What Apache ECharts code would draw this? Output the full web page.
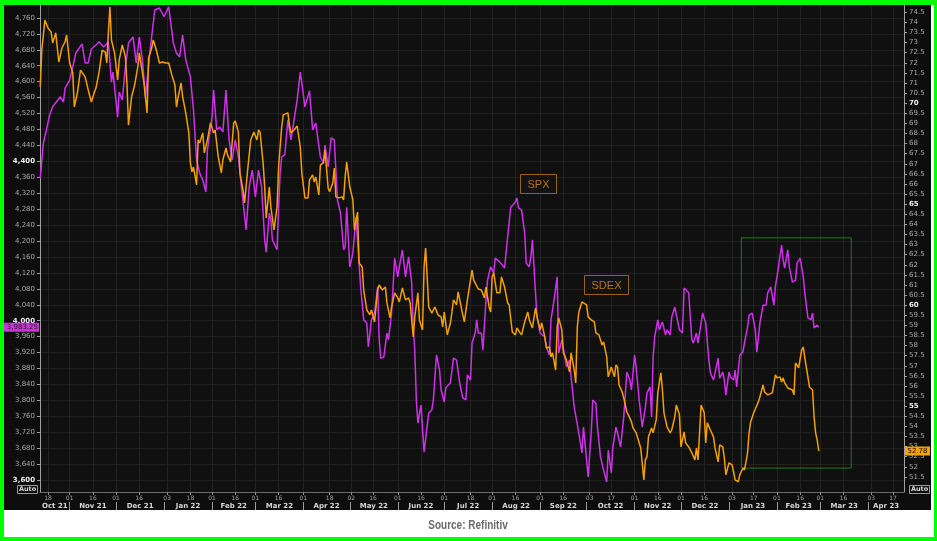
<!DOCTYPE html>
<html><head><meta charset="utf-8">
<script src="https://cdn.jsdelivr.net/npm/echarts@6/dist/echarts.min.js"></script>
<style>html,body{margin:0;padding:0;background:#fff}#c{width:937px;height:541px}</style>
</head><body><div id="c"></div>
<script>
// ---- data ----
const baseDate = '2021-10-18'; // day 0 of the day arrays below
const spxDay = [-5,-3,-1,1,3,5,8,10,11,14,16,18,22,24,26,28,31,33,36,39,41,42,45,46,48,50,52,55,57,59,61,63,66,69,72,75,78,79,81,83,85,87,89,92,94,96,98,100,102,103,106,107,109,111,113,115,117,119,121,123,125,128,130,132,134,136,138,140,141,143,144,145,148,149,150,151,153,155,157,159,161,163,164,166,169,171,173,176,178,179,181,183,185,187,189,191,192,193,195,197,199,200,202,204,206,207,209,211,213,214,215,217,219,220,222,224,226,227,229,231,233,235,236,237,238,239,241,243,244,246,248,249,251,253,254,256,257,260,262,264,266,268,270,271,273,274,276,277,278,280,281,283,284,286,288,289,292,295,297,298,299,302,303,304,306,308,309,311,312,313,315,316,318,321,322,324,325,327,329,330,332,334,335,337,338,340,343,345,346,348,349,351,352,354,355,357,359,361,362,364,365,367,368,370,372,373,374,376,377,379,380,382,384,386,387,389,390,391,392,394,395,397,399,400,402,403,405,406,408,410,411,412,414,416,417,419,420,422,423,425,427,428,430,431,433,434,436,437,438,440,441,443,444,445,447,449,450,452,453,455,457,458,460,462,464,465,467,469,470,472,474,475,476,478,479,481,483,484,486,488,489,491,493,494,495,497,498];
const spxVal = [4358,4446,4479,4516,4537,4547,4562,4549,4584,4604,4637,4672,4695,4647,4647,4682,4692,4700,4687,4700,4599,4624,4511,4574,4554,4637,4697,4712,4647,4712,4655,4562,4680,4780,4785,4763,4788,4785,4697,4672,4662,4717,4655,4612,4529,4403,4371,4353,4323,4429,4511,4579,4479,4486,4474,4579,4454,4403,4454,4411,4336,4228,4336,4378,4311,4378,4336,4203,4172,4270,4253,4203,4178,4285,4371,4411,4416,4504,4454,4504,4554,4624,4597,4537,4577,4479,4496,4411,4396,4441,4386,4459,4454,4303,4270,4178,4185,4285,4135,4170,4260,4203,4085,4002,3994,3934,4002,4019,4085,3952,3906,3909,3969,3952,4019,4157,4110,4135,4178,4110,4160,4095,3984,3926,3801,3743,3788,3670,3670,3768,3776,3801,3914,3876,3826,3796,3831,3844,3906,3901,3844,3806,3801,3864,3851,3944,3969,4002,3969,3969,3926,4052,4102,4135,4120,4157,4147,4132,4210,4215,4285,4298,4308,4283,4278,4220,4145,4135,4160,4203,4070,4009,3969,3959,3934,3914,4002,4052,4110,3919,3952,3909,3884,3901,3859,3783,3718,3668,3733,3650,3608,3718,3801,3793,3733,3658,3625,3595,3675,3618,3683,3733,3718,3683,3758,3813,3871,3851,3826,3914,3884,3801,3733,3783,3819,3834,3758,3909,3959,4002,3977,3997,3964,3977,3964,4009,4034,4032,3977,3969,4082,4082,4070,3952,3944,3969,3944,3994,4019,3994,3901,3869,3851,3856,3906,3856,3871,3851,3813,3871,3859,3851,3876,3834,3914,3921,3944,3984,4014,4019,3977,3921,3994,4039,4039,4070,4085,4039,4085,4135,4190,4152,4132,4178,4135,4097,4102,4145,4157,4110,4070,4007,4002,4019,3982,3989,3983.25];
const sdexDay = [-5,-4,-2,0,2,3,5,7,9,11,12,14,16,17,19,21,24,26,28,30,31,33,35,37,38,39,40,41,43,45,46,48,50,51,52,54,56,58,59,61,62,64,65,67,68,70,72,74,76,78,80,82,83,84,86,87,89,91,92,93,94,96,97,98,100,101,103,105,107,108,110,112,113,115,116,118,120,121,123,124,126,127,129,131,133,135,136,137,139,140,141,143,144,146,148,149,151,152,155,156,157,159,161,163,164,166,168,169,171,172,173,175,176,178,179,181,182,184,185,186,188,190,191,192,193,195,197,198,200,201,203,204,206,208,209,211,213,214,216,218,219,221,222,224,226,227,229,231,233,234,235,236,237,239,240,242,243,244,245,246,248,250,252,254,255,256,258,260,261,262,264,265,266,268,269,271,272,274,275,276,277,278,280,282,283,285,286,287,288,290,292,293,295,297,298,300,302,303,305,306,308,310,311,313,315,316,318,319,321,322,324,325,326,328,329,330,332,333,335,337,338,340,341,342,343,345,346,348,349,351,353,354,356,358,359,361,362,364,366,367,368,369,371,372,374,375,377,378,380,382,383,385,386,387,388,390,391,393,394,396,397,398,400,402,403,405,406,408,409,411,412,414,415,416,418,419,420,421,422,424,425,426,428,430,431,433,434,436,437,438,440,442,443,444,446,447,449,450,451,452,453,454,456,457,459,460,462,463,465,466,468,470,471,473,474,475,476,478,479,481,482,483,485,486,487,488,489,491,492,494,495,496,497,498];
const sdexVal = [70.80,72.63,74.12,73.72,73.53,72.98,73.48,72.04,72.73,73.03,73.38,71.99,71.50,69.81,70.51,71.64,71.30,70.65,70.06,70.55,70.75,71.54,72.63,72.53,71.99,73.48,74.76,73.13,72.49,71.15,72.14,72.88,72.29,71.00,68.92,70.31,70.90,71.79,72.49,71.50,71.00,69.52,72.24,72.73,73.13,72.63,71.99,72.04,71.99,71.99,71.40,70.90,69.81,70.26,71.00,70.31,69.52,68.53,67.04,66.60,66.84,65.95,68.18,68.03,68.53,67.54,68.18,69.02,68.53,68.67,67.34,66.55,67.19,67.78,67.44,67.09,69.02,69.12,68.57,66.55,65.70,65.06,66.69,68.18,68.57,68.18,68.67,68.57,67.04,65.85,64.32,65.85,64.86,63.72,64.86,66.84,68.82,69.42,69.52,68.92,68.53,68.67,68.87,67.83,66.55,65.31,65.31,66.20,66.45,66.10,66.35,65.46,66.94,67.04,67.68,65.80,65.61,66.05,66.79,65.36,65.31,65.36,65.21,66.35,67.09,65.85,65.21,63.72,64.61,62.09,61.89,60.75,59.76,59.52,59.76,59.17,60.75,61.00,60.75,60.90,60.11,59.37,59.91,60.61,60.36,60.16,60.85,60.26,60.36,60.11,59.27,58.43,59.42,60.61,59.27,58.77,61.89,62.83,61.40,59.91,59.61,59.91,59.52,59.42,58.92,59.66,58.53,59.12,59.66,60.26,60.01,60.66,60.61,59.52,59.17,60.26,60.26,61.74,61.25,61.10,61.15,60.80,60.75,60.36,60.90,59.91,59.66,61.40,61.60,60.61,60.61,61.40,60.90,60.11,60.01,58.67,58.53,58.87,58.63,58.53,59.17,59.66,59.27,58.87,59.86,59.42,58.77,59.12,58.43,57.88,57.93,57.44,57.64,56.79,58.92,59.37,58.77,57.64,57.29,56.70,57.64,56.79,56.15,58.92,59.66,60.16,60.11,60.01,59.42,59.27,59.17,58.63,58.53,58.03,58.18,57.44,56.45,56.94,56.45,57.04,56.94,56.05,55.70,55.41,54.71,54.57,54.22,53.92,53.68,53.18,52.93,51.35,52.34,52.49,53.48,53.92,53.68,54.32,55.66,56.65,55.80,54.67,53.97,53.68,53.82,54.47,55.06,54.57,52.98,53.73,53.18,52.98,52.98,52.69,52.34,52.93,52.34,53.68,55.06,54.67,53.18,54.17,53.82,53.48,52.93,52.24,53.08,52.98,52.44,51.60,52.19,52.09,51.74,51.35,51.25,51.60,51.94,51.84,52.24,52.69,53.68,54.22,54.67,54.71,55.21,55.46,56.05,55.70,55.56,55.56,55.66,56.55,56.40,56.45,56.20,56.40,56.15,55.90,55.95,55.80,55.56,57.14,56.90,56.94,57.78,57.93,57.39,56.45,55.95,55.80,54.47,53.68,53.33,52.78];
const spxTicks = [3600,3640,3680,3720,3760,3800,3840,3880,3920,3960,4000,4040,4080,4120,4160,4200,4240,4280,4320,4360,4400,4440,4480,4520,4560,4600,4640,4680,4720,4760];
const sdexTicks = [51.5,52,52.5,53,53.5,54,54.5,55,55.5,56,56.5,57,57.5,58,58.5,59,59.5,60,60.5,61,61.5,62,62.5,63,63.5,64,64.5,65,65.5,66,66.5,67,67.5,68,68.5,69,69.5,70,70.5,71,71.5,72,72.5,73,73.5,74,74.5];
const dayTicks = ['2021-10-18','2021-11-01','2021-11-16','2021-12-01','2021-12-16','2022-01-03','2022-01-18','2022-02-01','2022-02-16','2022-03-01','2022-03-16','2022-04-01','2022-04-18','2022-05-02','2022-05-16','2022-06-01','2022-06-16','2022-07-01','2022-07-18','2022-08-01','2022-08-16','2022-09-01','2022-09-16','2022-10-03','2022-10-17','2022-11-01','2022-11-16','2022-12-01','2022-12-16','2023-01-03','2023-01-17','2023-02-01','2023-02-16','2023-03-01','2023-03-16','2023-04-03','2023-04-17'];
const months = ['2021-10','2021-11','2021-12','2022-01','2022-02','2022-03','2022-04','2022-05','2022-06','2022-07','2022-08','2022-09','2022-10','2022-11','2022-12','2023-01','2023-02','2023-03','2023-04'];
const monthLabels = ['Oct 21','Nov 21','Dec 21','Jan 22','Feb 22','Mar 22','Apr 22','May 22','Jun 22','Jul 22','Aug 22','Sep 22','Oct 22','Nov 22','Dec 22','Jan 23','Feb 23','Mar 23','Apr 23'];
const xRange = ['2021-10-12T20:00:00Z','2023-04-24T02:24:00Z'];
const spxRange = [3570, 4795];
const sdexRange = [50.75, 74.91];
const boxDates = ['2023-01-09','2023-03-21'];
const boxSpx = [4208, 3630];

// ---- build ----
const DAY = 86400000;
const base = Date.parse(baseDate + 'T00:00:00Z');
const xMin = Date.parse(xRange[0]), xMax = Date.parse(xRange[1]);
const spxData = spxDay.map((d, i) => [base + d * DAY, spxVal[i]]);
const sdexData = sdexDay.map((d, i) => [base + d * DAY, sdexVal[i]]);
const dayTickMs = dayTicks.map(s => Date.parse(s + 'T00:00:00Z'));
const monthStartMs = [], monthMidMs = [], midLabel = {};
months.forEach((m, i) => {
  const y = +m.slice(0, 4), mo = +m.slice(5, 7) - 1;
  const s = Date.UTC(y, mo, 1), e = Date.UTC(y, mo + 1, 1);
  if (s > xMin && s < xMax) monthStartMs.push(s);
  const a = Math.max(s, xMin), b = Math.min(e, xMax);
  const mid = (a + b) / 2;
  monthMidMs.push(mid); midLabel[mid] = monthLabels[i];
});
const FONT = 'DejaVu Sans';
const PURPLE = '#d030ec', ORANGE = '#f5a000';

const chart = echarts.init(document.getElementById('c'), null, {renderer: 'canvas'});
const option = {
  animation: false,
  backgroundColor: '#0d0d0d',
  grid: {left: 40, right: 33, top: 4, bottom: 49, show: true, backgroundColor: '#101010', borderWidth: 0, outerBoundsMode: 'none'},
  xAxis: [{
    type: 'value', min: xMin, max: xMax, position: 'bottom',
    axisLine: {show: true, lineStyle: {color: '#6a6a6a', width: 1}},
    axisTick: {show: true, customValues: dayTickMs, length: 3, lineStyle: {color: '#8a8a8a'}},
    axisLabel: {customValues: dayTickMs, fontSize: 6, fontFamily: FONT, color: '#a0a0a0', margin: 3,
      formatter: v => String(new Date(v).getUTCDate()).padStart(2, '0')},
    splitLine: {show: true, lineStyle: {color: '#222222', width: 1}}
  }, {
    type: 'value', min: xMin, max: xMax, position: 'bottom', offset: 10,
    axisLine: {show: false},
    axisTick: {show: true, customValues: monthStartMs, length: 8, lineStyle: {color: '#9a9a9a'}},
    axisLabel: {customValues: monthMidMs, fontSize: 7, fontWeight: 'bold', fontFamily: FONT, color: '#d8d8d8', margin: 1,
      formatter: v => midLabel[v] || ''},
    splitLine: {show: false}
  }],
  yAxis: [{
    type: 'value', min: spxRange[0], max: spxRange[1], position: 'left',
    axisLine: {show: true, lineStyle: {color: '#a0a0a0'}},
    axisTick: {show: true, customValues: spxTicks, length: 3, lineStyle: {color: '#a0a0a0'}},
    axisLabel: {customValues: spxTicks, fontSize: 7, fontFamily: FONT, color: '#a8a8a8', margin: 5,
      formatter: v => { const t = v.toLocaleString('en-US'); return v % 400 === 0 ? '{b|' + t + '}' : t; },
      rich: {b: {fontSize: 7, fontFamily: FONT, fontWeight: 'bold', color: '#eeeeee'}}},
    splitLine: {show: true, lineStyle: {color: '#1f1f1f'}}
  }, {
    type: 'value', min: sdexRange[0], max: sdexRange[1], position: 'right',
    axisLine: {show: true, lineStyle: {color: '#a0a0a0'}},
    axisTick: {show: true, customValues: sdexTicks, length: 3, lineStyle: {color: '#a0a0a0'}},
    axisLabel: {customValues: sdexTicks, fontSize: 7, fontFamily: FONT, color: '#a8a8a8', margin: 5,
      formatter: v => { const t = (v % 1 === 0) ? String(v) : v.toFixed(1); return v % 5 === 0 ? '{b|' + t + '}' : t; },
      rich: {b: {fontSize: 7, fontFamily: FONT, fontWeight: 'bold', color: '#eeeeee'}}},
    splitLine: {show: false}
  }],
  series: [{
    name: 'SPX', type: 'line', xAxisIndex: 0, yAxisIndex: 0, data: spxData,
    showSymbol: false, symbol: 'none', lineStyle: {color: PURPLE, width: 1.5}, itemStyle: {color: PURPLE}, z: 3,
    markArea: {silent: true, itemStyle: {color: 'rgba(0,0,0,0)', borderColor: '#1e7d1e', borderWidth: 1},
      data: [[{xAxis: Date.parse(boxDates[0] + 'T00:00:00Z'), yAxis: boxSpx[0]}, {xAxis: Date.parse(boxDates[1] + 'T00:00:00Z'), yAxis: boxSpx[1]}]]}
  }, {
    name: 'SDEX', type: 'line', xAxisIndex: 0, yAxisIndex: 1, data: sdexData,
    showSymbol: false, symbol: 'none', lineStyle: {color: ORANGE, width: 1.5}, itemStyle: {color: ORANGE}, z: 4
  }]
};
chart.setOption(option);

const ySpx = chart.convertToPixel({yAxisIndex: 0}, spxVal[spxVal.length - 1]);
const ySdex = chart.convertToPixel({yAxisIndex: 1}, sdexVal[sdexVal.length - 1]);
const spxTxt = spxVal[spxVal.length - 1].toLocaleString('en-US', {minimumFractionDigits: 2});
const sdexTxt = sdexVal[sdexVal.length - 1].toFixed(2);

function tagBox(x, y, w, h, label, stroke, fill, txtColor) {
  return {type: 'group', children: [
    {type: 'rect', shape: {x: x, y: y, width: w, height: h}, style: {fill: fill, stroke: stroke, lineWidth: 1}},
    {type: 'text', x: x + w / 2, y: y + h / 2 + 0.5, style: {text: label, fill: txtColor, font: '11px "Liberation Sans", Arial, sans-serif', align: 'center', verticalAlign: 'middle'}}
  ]};
}

chart.setOption({graphic: {elements: [
  // outer frame: white strip and green border
  {type: 'rect', shape: {x: 0, y: 510, width: 937, height: 31}, style: {fill: '#ffffff'}},
  {type: 'rect', shape: {x: 931, y: 0, width: 6, height: 541}, style: {fill: '#ffffff'}},
  {type: 'rect', shape: {x: 0, y: 0, width: 937, height: 5}, style: {fill: '#00ff00'}},
  {type: 'rect', shape: {x: 0, y: 537, width: 937, height: 4}, style: {fill: '#00ff00'}},
  {type: 'rect', shape: {x: 0, y: 0, width: 4, height: 541}, style: {fill: '#00ff00'}},
  {type: 'rect', shape: {x: 934, y: 0, width: 3, height: 541}, style: {fill: '#00ff00'}},
  {type: 'text', x: 468, y: 525, scaleX: 0.77, originX: 0, style: {text: 'Source: Refinitiv', fill: '#6a6a6a', font: 'bold 13px "Liberation Sans", sans-serif', align: 'center', verticalAlign: 'middle'}},
  // series name boxes
  tagBox(520.5, 174.5, 36, 19, 'SPX', '#9c6210', '#121212', '#b8750f'),
  tagBox(584.5, 275.5, 44, 19, 'SDEX', '#9c6210', '#121212', '#b8750f'),
  // last-value tags
  {type: 'rect', z: 50, shape: {x: 4, y: ySpx - 4.5, width: 35, height: 9}, style: {fill: '#cc33dd'}},
  {type: 'text', z: 51, x: 38, y: ySpx, style: {text: spxTxt, fill: '#1a1a1a', font: '7px "DejaVu Sans"', align: 'right', verticalAlign: 'middle'}},
  {type: 'rect', z: 50, shape: {x: 905, y: ySdex - 4.5, width: 25, height: 9}, style: {fill: '#f5a300'}},
  {type: 'text', z: 51, x: 917.5, y: ySdex, style: {text: sdexTxt, fill: '#000000', font: '7px "DejaVu Sans"', align: 'center', verticalAlign: 'middle'}},
  // Auto buttons
  {type: 'rect', shape: {x: 17.5, y: 485.5, width: 20, height: 8}, style: {fill: '#0d0d0d', stroke: '#9a9a9a', lineWidth: 1}},
  {type: 'text', x: 27.5, y: 489.5, style: {text: 'Auto', fill: '#d8d8d8', font: 'bold 6.5px "DejaVu Sans"', align: 'center', verticalAlign: 'middle'}},
  {type: 'rect', shape: {x: 909.5, y: 485.5, width: 20, height: 8}, style: {fill: '#0d0d0d', stroke: '#9a9a9a', lineWidth: 1}},
  {type: 'text', x: 919.5, y: 489.5, style: {text: 'Auto', fill: '#d8d8d8', font: 'bold 6.5px "DejaVu Sans"', align: 'center', verticalAlign: 'middle'}}
]}});
</script>
</body></html>
